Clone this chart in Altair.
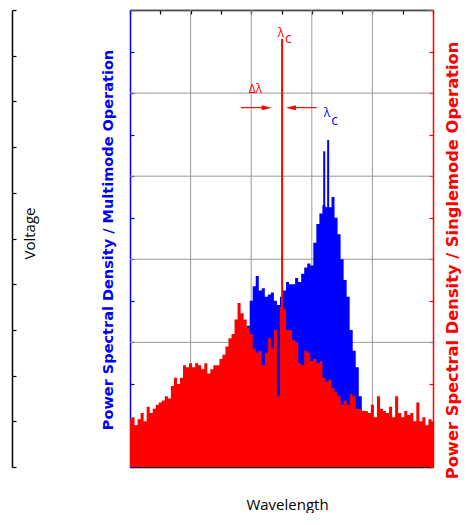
import altair as alt
import pandas as pd

# ---------------- data ----------------
wavelength = [round(i * 0.1, 1) for i in range(101)]

multimode = [
    0.6, 0.9, 0.5, 0.8, 0.7, 1.0, 0.6, 0.9, 0.8, 0.7,
    1.0, 0.8, 0.9, 0.7, 1.1, 0.9, 1.0, 0.8, 1.2, 1.0,
    1.1, 0.9, 1.2, 1.0, 1.3, 1.1, 1.2, 1.0, 1.3, 1.1,
    1.2, 1.0, 1.2, 1.0, 1.3, 1.4, 1.2, 1.5, 2.0,
    3.4, 4.0, 4.35, 4.6, 4.25, 4.3, 4.1, 4.15, 4.2, 4.0,
    3.9, 4.1, 4.25, 4.45, 4.4, 4.4, 4.55, 4.45, 4.65, 4.8,
    4.9, 4.85, 5.4, 5.85, 6.1, 6.3, 6.25, 6.25, 6.5, 6.0,
    5.6, 5.0, 4.5, 4.1, 3.3, 2.8, 2.4, 1.7, 1.1, 0.8,
    0.6, 0.5, 0.7, 0.4, 0.5, 0.6, 0.4, 0.5, 0.3, 0.5,
    0.4, 0.3, 0.5, 0.4, 0.3, 0.4, 0.3, 0.4, 0.3, 0.3,
    0.2, 0.3,
]

singlemode = [
    1.15, 1.2, 1.0, 1.15, 1.3, 1.1, 1.45, 1.3, 1.4, 1.5,
    1.55, 1.6, 1.7, 1.65, 1.95, 2.15, 2.0, 2.15, 2.45, 2.4,
    2.5, 2.4, 2.5, 2.45, 2.35, 2.5, 2.25, 2.35, 2.45, 2.45,
    2.6, 2.7, 2.9, 3.1, 3.2, 3.55, 3.95, 3.7, 3.55, 3.35,
    3.2, 2.85, 2.75, 2.8, 2.45, 2.75, 3.1, 2.85, 3.3, 1.7,
    3.85, 3.8, 3.3, 3.3, 3.05, 3.0, 2.5, 2.45, 2.8, 2.75,
    2.55, 2.6, 2.5, 2.55, 2.15, 2.05, 2.1, 1.9, 1.8, 1.7,
    1.5, 1.6, 1.5, 1.75, 1.7, 1.4, 1.4, 1.35, 1.35, 1.3,
    1.5, 1.2, 1.7, 1.4, 1.35, 1.3, 1.45, 1.2, 1.7, 1.3,
    1.2, 1.35, 1.25, 1.3, 1.1, 1.55, 1.1, 1.2, 1.0, 1.15,
    1.1,
]

single_peak_wl = [5.02]
single_peak_psd = [10.3]
multi_peak_wl = [6.41, 6.54]
multi_peak_psd = [7.6, 7.87]

grid_wl = [2, 4, 6, 8]
grid_psd = [1, 3, 5, 7, 9, 11]
psd_ticks = list(range(12))
wl_ticks = list(range(11))
voltage_ticks = list(range(11))

# annotations
label_text = ["λ", "c", "λ", "c", "Δλ"]
label_wl = [4.98, 5.23, 6.50, 6.75, 4.14]
label_psd = [10.35, 10.20, 8.42, 8.23, 9.00]
label_color = ["#ff0000", "#ff0000", "#0000ff", "#0000ff", "#ff0000"]
label_size = [12, 14, 12, 14, 12]

arrow_start = [3.66, 5.28]
arrow_end = [4.55, 6.16]
arrow_psd = [8.65, 8.65]
head_wl = [4.51, 5.31]
head_shape = ["M-1,-0.5L1,0L-1,0.5Z", "M1,-0.5L-1,0L1,0.5Z"]

# ---------------- tables ----------------
spec = pd.DataFrame({"wl": wavelength, "multi": multimode, "single": singlemode})
speak = pd.DataFrame({"wl": single_peak_wl, "psd": single_peak_psd})
mpeak = pd.DataFrame({"wl": multi_peak_wl, "psd": multi_peak_psd})
gx = pd.DataFrame({"wl": grid_wl})
gy = pd.DataFrame({"psd": grid_psd})
labels = pd.DataFrame({"t": label_text, "wl": label_wl, "psd": label_psd,
                       "c": label_color, "s": label_size})
arrows = pd.DataFrame({"a": arrow_start, "b": arrow_end, "psd": arrow_psd})
heads = pd.DataFrame({"wl": head_wl, "psd": arrow_psd, "shape": head_shape})
volt = pd.DataFrame({"v": [0, 10]})

W, H = 303, 457
FONT = "Open Sans"
TFONT = "DejaVu Sans"
BLUE = "#0000ff"
RED = "#ff0000"

xs = alt.Scale(domain=[0, 10], nice=False, zero=False)
ys = alt.Scale(domain=[0, 11], nice=False, zero=False)

grid_v = alt.Chart(gx).mark_rule(color="#999999", strokeWidth=1).encode(
    x=alt.X("wl:Q", scale=xs, axis=None)
)
grid_h = alt.Chart(gy).mark_rule(color="#999999", strokeWidth=1).encode(
    y=alt.Y("psd:Q", scale=ys, axis=None)
)

blue_area = alt.Chart(spec).mark_area(color=BLUE, interpolate="step", opacity=1).encode(
    x=alt.X("wl:Q", scale=xs, axis=alt.Axis(
        orient="bottom", labels=False, ticks=False, grid=False,
        domainColor="black", domainWidth=1.5,
        title="Wavelength", titleFont=FONT, titleFontSize=15,
        titleFontWeight="normal", titleColor="black",
        titleBaseline="alphabetic", titleY=42, titleX=157)),
    y=alt.Y("multi:Q", scale=ys, axis=alt.Axis(
        orient="right", offset=-W, values=psd_ticks, labels=False,
        tickSize=4, tickColor=BLUE, tickWidth=1.2, domainColor=BLUE,
        domainWidth=1.5, grid=False,
        title="Power Spectral Density / Multimode Operation",
        titleColor=BLUE, titleFont=TFONT, titleFontSize=14.5,
        titleFontWeight="bold", titleAngle=270, titleAlign="center",
        titleBaseline="alphabetic", titleX=-17.5, titleY=229.5)),
)

blue_peaks = alt.Chart(mpeak).mark_rule(color=BLUE, strokeWidth=2).encode(
    x=alt.X("wl:Q", scale=xs, axis=None),
    y=alt.Y("psd:Q", scale=ys, axis=None),
    y2=alt.datum(0),
)

red_area = alt.Chart(spec).mark_area(color=RED, interpolate="step", opacity=1).encode(
    x=alt.X("wl:Q", scale=xs, axis=alt.Axis(
        orient="bottom", offset=-H, values=wl_ticks, labels=False,
        tickSize=4, tickColor="black", tickWidth=1.2,
        domainColor="black", domainWidth=1.5, grid=False, title=None)),
    y=alt.Y("single:Q", scale=ys, axis=alt.Axis(
        orient="left", offset=-W, values=psd_ticks, labels=False,
        tickSize=4, tickColor=RED, tickWidth=1.2, domainColor=RED,
        domainWidth=1.5, grid=False,
        title="Power Spectral Density / Singlemode Operation",
        titleColor=RED, titleFont=TFONT, titleFontSize=16.3,
        titleFontWeight="bold", titleAngle=270, titleAlign="center",
        titleBaseline="alphabetic", titleX=24, titleY=250)),
)

red_peak = alt.Chart(speak).mark_rule(color=RED, strokeWidth=2).encode(
    x=alt.X("wl:Q", scale=xs, axis=None),
    y=alt.Y("psd:Q", scale=ys, axis=None),
    y2=alt.datum(0),
)

volt_axis = alt.Chart(volt).mark_point(opacity=0).encode(
    x=alt.X("v:Q", scale=xs, axis=None),
    y=alt.Y("v:Q", scale=alt.Scale(domain=[0, 10], nice=False, zero=False),
            axis=alt.Axis(
                orient="right", offset=-(W + 118), values=voltage_ticks,
                labels=False, tickSize=4, tickColor="black", tickWidth=1.2,
                domainColor="black", domainWidth=1.5, grid=False,
                title="Voltage", titleColor="black", titleFont=FONT,
                titleFontSize=15, titleFontWeight="normal", titleAngle=270,
                titleAlign="center", titleBaseline="alphabetic",
                titleX=22, titleY=223)),
)

arrow_lines = alt.Chart(arrows).mark_rule(color=RED, strokeWidth=1.2).encode(
    x=alt.X("a:Q", scale=xs, axis=None),
    x2="b:Q",
    y=alt.Y("psd:Q", scale=ys, axis=None),
)

arrow_heads = alt.Chart(heads).mark_point(filled=True, color=RED, opacity=1, size=100).encode(
    x=alt.X("wl:Q", scale=xs, axis=None),
    y=alt.Y("psd:Q", scale=ys, axis=None),
    shape=alt.Shape("shape:N", scale=None),
)

texts = alt.Chart(labels).mark_text(font=FONT, baseline="alphabetic", align="center").encode(
    x=alt.X("wl:Q", scale=xs, axis=None),
    y=alt.Y("psd:Q", scale=ys, axis=None),
    text="t:N",
    color=alt.Color("c:N", scale=None),
    size=alt.Size("s:Q", scale=None),
)

chart = alt.layer(
    grid_v, grid_h, blue_area, blue_peaks, red_area, red_peak,
    volt_axis, arrow_lines, arrow_heads, texts,
).resolve_scale(
    x="independent", y="independent"
).properties(
    width=W, height=H,
    padding={"left": 122, "top": 2, "right": 28, "bottom": 46},
    autosize=alt.AutoSizeParams(type="none"),
).configure_view(strokeWidth=0)

chart.save("out.html", embed_options={"renderer": "svg", "actions": False})
